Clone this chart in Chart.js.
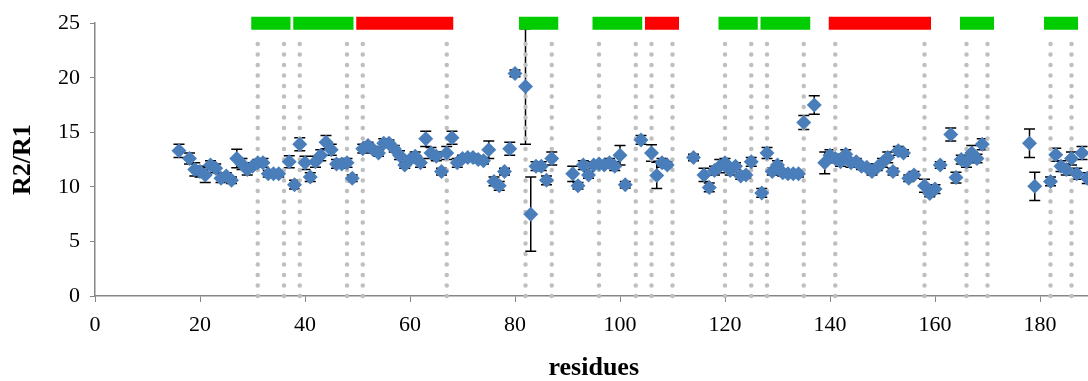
<!DOCTYPE html>
<html>
<head>
<meta charset="utf-8">
<title>R2/R1 per residue</title>
<script src="https://cdn.jsdelivr.net/npm/chart.js@4.4.1/dist/chart.umd.min.js"></script>
<style>
  html, body { margin: 0; padding: 0; overflow: hidden; background: #fff; }
  #wrap { width: 1100px; height: 381px; }
</style>
</head>
<body>
<div id="wrap"><canvas id="relaxChart" width="1100" height="381"></canvas></div>
<script>
// residue number, R2/R1 ratio and its error
const residues = [
  16, 18, 19, 20, 21, 22, 23, 24, 25, 26,
  27, 28, 29, 30, 31, 32, 33, 34, 35, 37,
  38, 39, 40, 41, 42, 43, 44, 45, 46, 47,
  48, 49, 51, 52, 53, 54, 55, 56, 57, 58,
  59, 60, 61, 62, 63, 64, 65, 66, 67, 68,
  69, 70, 71, 72, 73, 74, 75, 76, 77, 78,
  79, 80, 82, 83, 84, 85, 86, 87, 91, 92,
  93, 94, 95, 96, 97, 98, 99, 100, 101, 104,
  106, 107, 108, 109, 114, 116, 117, 118, 119, 120,
  121, 122, 123, 124, 125, 127, 128, 129, 130, 131,
  132, 133, 134, 135, 137, 139, 140, 141, 142, 143,
  144, 145, 146, 147, 148, 149, 150, 151, 152, 153,
  154, 155, 156, 158, 159, 160, 161, 163, 164, 165,
  166, 167, 168, 169, 178, 179, 182, 183, 184, 185,
  186, 187, 188, 189
];
const ratios = [
  13.3, 12.6, 11.6, 11.4, 11.1, 12.0, 11.7, 10.8, 11.0, 10.6,
  12.6, 12.1, 11.6, 11.9, 12.2, 12.2, 11.2, 11.2, 11.2, 12.3,
  10.2, 13.9, 12.2, 10.9, 12.3, 12.9, 14.1, 13.4, 12.1, 12.1,
  12.2, 10.8, 13.5, 13.8, 13.4, 13.1, 14.0, 14.0, 13.5, 12.9,
  12.0, 12.5, 12.8, 12.2, 14.4, 13.1, 12.8, 11.4, 13.1, 14.5,
  12.2, 12.6, 12.7, 12.7, 12.5, 12.4, 13.4, 10.5, 10.1, 11.4,
  13.5, 20.4, 19.2, 7.5, 11.9, 11.9, 10.6, 12.6, 11.2, 10.1,
  12.0, 11.1, 12.0, 12.1, 12.0, 12.2, 11.9, 12.9, 10.2, 14.3,
  13.1, 11.05, 12.2, 12.0, 12.7, 11.1, 9.95, 11.5, 11.9, 12.2,
  11.5, 11.9, 11.0, 11.1, 12.3, 9.45, 13.1, 11.4, 12.0, 11.3,
  11.2, 11.2, 11.2, 15.9, 17.5, 12.2, 12.9, 12.6, 12.3, 13.0,
  12.2, 12.3, 11.9, 11.8, 11.4, 11.8, 12.2, 12.7, 11.4, 13.3,
  13.1, 10.8, 11.1, 10.1, 9.4, 9.8, 12.0, 14.8, 10.85, 12.5,
  12.3, 13.1, 12.6, 13.9, 14.0, 10.05, 10.5, 12.95, 11.9, 11.6,
  12.6, 11.2, 13.1, 10.8
];
const ratioErrors = [
  0.6, 0.5, 0.6, 0.5, 0.7, 0.4, 0.4, 0.4, 0.3, 0.3,
  0.85, 0.5, 0.5, 0.3, 0.3, 0.4, 0.3, 0.3, 0.3, 0.55,
  0.4, 0.6, 0.6, 0.4, 0.5, 0.5, 0.6, 0.5, 0.4, 0.4,
  0.4, 0.3, 0.4, 0.3, 0.3, 0.3, 0.4, 0.3, 0.3, 0.4,
  0.3, 0.3, 0.4, 0.4, 0.7, 0.5, 0.4, 0.3, 0.6, 0.6,
  0.4, 0.3, 0.3, 0.3, 0.3, 0.3, 0.8, 0.4, 0.4, 0.3,
  0.6, 0.3, 5.3, 3.4, 0.4, 0.4, 0.4, 0.6, 0.7, 0.3,
  0.4, 0.3, 0.3, 0.3, 0.3, 0.4, 0.4, 0.9, 0.3, 0.4,
  0.75, 1.2, 0.4, 0.3, 0.3, 0.6, 0.4, 0.4, 0.6, 0.4,
  0.4, 0.3, 0.3, 0.3, 0.4, 0.4, 0.5, 0.3, 0.4, 0.3,
  0.3, 0.3, 0.3, 0.65, 0.85, 1.0, 0.5, 0.4, 0.4, 0.4,
  0.4, 0.3, 0.3, 0.3, 0.3, 0.3, 0.4, 0.5, 0.3, 0.4,
  0.3, 0.3, 0.3, 0.6, 0.3, 0.4, 0.3, 0.6, 0.5, 0.4,
  0.5, 0.7, 0.4, 0.5, 1.3, 1.3, 0.4, 0.6, 0.5, 0.5,
  0.6, 0.5, 0.6, 0.5
];

// secondary structure segments (start, end residue) drawn along the top
const greenSegments = [[31, 36], [39, 48], [82, 87], [96, 103], [120, 125], [128, 135], [166, 170], [182, 186]];
const redSegments = [[51, 67], [106, 110], [141, 158]];
const segmentLevel = 25;

const xTicks = [0, 20, 40, 60, 80, 100, 120, 140, 160, 180];
const yTicks = [0, 5, 10, 15, 20, 25];

const serif = "'Liberation Serif', 'Times New Roman', serif";
const axisGrey = '#868686';

// segment ends get a dotted guide line down to the axis
const guideResidues = [...greenSegments, ...redSegments].flat().sort((a, b) => a - b);

function segmentPoints(segments) {
  const pts = [];
  segments.forEach(([a, b]) => {
    pts.push({ x: a, y: segmentLevel }, { x: b, y: segmentLevel }, { x: b, y: null });
  });
  return pts;
}

const guideSets = guideResidues.map(r => ({
  type: 'line',
  data: [{ x: r, y: 0 }, { x: r, y: 24 }],
  borderColor: '#BFBFBF',
  borderWidth: 4.5,
  borderDash: [0, 10.5],
  borderCapStyle: 'round',
  pointRadius: 0,
  clip: false
}));

// error bars sit beneath all datasets
const errorBars = {
  id: 'errorBars',
  beforeDatasetsDraw(chart) {
    const { ctx, chartArea, scales: { x, y } } = chart;
    ctx.save();
    ctx.beginPath();
    ctx.rect(chartArea.left, chartArea.top, chartArea.right - chartArea.left, chartArea.bottom - chartArea.top);
    ctx.clip();
    ctx.strokeStyle = '#000';
    ctx.lineWidth = 1.5;
    residues.forEach((r, i) => {
      const px = x.getPixelForValue(r);
      const hi = y.getPixelForValue(ratios[i] + ratioErrors[i]);
      const lo = y.getPixelForValue(ratios[i] - ratioErrors[i]);
      ctx.beginPath();
      ctx.moveTo(px, hi); ctx.lineTo(px, lo);
      ctx.moveTo(px - 5.5, hi); ctx.lineTo(px + 5.5, hi);
      ctx.moveTo(px - 5.5, lo); ctx.lineTo(px + 5.5, lo);
      ctx.stroke();
    });
    ctx.restore();
  }
};

new Chart(document.getElementById('relaxChart'), {
  type: 'scatter',
  data: {
    datasets: [
      {
        label: 'R2/R1',
        data: residues.map((r, i) => ({ x: r, y: ratios[i] })),
        pointStyle: 'rectRot',
        pointRadius: 7.5,
        pointHoverRadius: 7.5,
        backgroundColor: '#4A7EBB',
        borderColor: '#4A7EBB',
        borderWidth: 0,
        showLine: false
      },
      {
        type: 'line',
        data: segmentPoints(greenSegments),
        borderColor: '#00CC00',
        borderWidth: 13,
        borderCapStyle: 'square',
        pointRadius: 0,
        spanGaps: false,
        clip: false
      },
      {
        type: 'line',
        data: segmentPoints(redSegments),
        borderColor: '#FF0000',
        borderWidth: 13,
        borderCapStyle: 'square',
        pointRadius: 0,
        spanGaps: false,
        clip: false
      },
      ...guideSets
    ]
  },
  options: {
    responsive: false,
    animation: false,
    events: [],
    layout: { padding: { top: 20, right: 6, bottom: 0, left: 0 } },
    plugins: {
      legend: { display: false },
      tooltip: { enabled: false }
    },
    scales: {
      x: {
        type: 'linear',
        min: 0,
        max: 190,
        afterBuildTicks: s => { s.ticks = xTicks.map(v => ({ value: v })); },
        afterFit: s => { s.height = 85; },
        ticks: { font: { family: serif, size: 22 }, color: '#000', padding: 10 },
        grid: { drawOnChartArea: false, drawTicks: true, tickLength: 6, color: axisGrey },
        border: { color: axisGrey, width: 1.5 },
        title: {
          display: true,
          text: 'residues',
          font: { family: serif, size: 26, weight: 'bold', lineHeight: 1 },
          color: '#000',
          padding: { top: 0, bottom: 0 }
        }
      },
      y: {
        min: 0,
        max: 25,
        afterBuildTicks: s => { s.ticks = yTicks.map(v => ({ value: v })); },
        afterFit: s => { s.width = 95; },
        ticks: { font: { family: serif, size: 22 }, color: '#000', padding: 10 },
        grid: { drawOnChartArea: false, drawTicks: true, tickLength: 5, color: axisGrey },
        border: { color: axisGrey, width: 1.5 },
        title: {
          display: true,
          text: 'R2/R1',
          font: { family: serif, size: 26, weight: 'bold' },
          color: '#000',
          padding: { top: 8, bottom: 0 }
        }
      }
    }
  },
  plugins: [errorBars]
});
</script>
</body>
</html>
